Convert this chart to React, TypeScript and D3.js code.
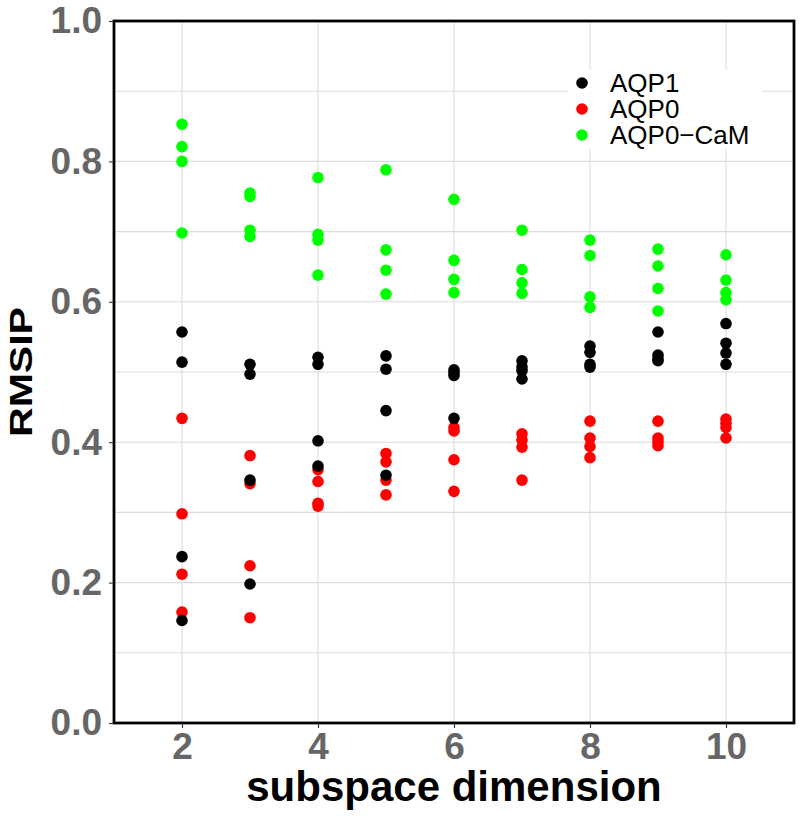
import React, { useEffect, useRef } from 'react'
import * as d3 from 'd3'

// subspace dimensions on the x axis
const dims = [2, 3, 4, 5, 6, 7, 8, 9, 10]

// RMSIP values, four replicates per dimension
const aqp1 = [
  [0.557, 0.514, 0.237, 0.146],
  [0.511, 0.497, 0.346, 0.198],
  [0.521, 0.511, 0.402, 0.366],
  [0.523, 0.504, 0.445, 0.353],
  [0.503, 0.499, 0.495, 0.434],
  [0.516, 0.507, 0.502, 0.49],
  [0.537, 0.528, 0.511, 0.507],
  [0.557, 0.524, 0.519, 0.516],
  [0.569, 0.541, 0.527, 0.511],
]

const aqp0 = [
  [0.434, 0.298, 0.212, 0.158],
  [0.381, 0.341, 0.224, 0.15],
  [0.361, 0.344, 0.313, 0.309],
  [0.384, 0.372, 0.346, 0.325],
  [0.421, 0.416, 0.375, 0.33],
  [0.412, 0.403, 0.393, 0.346],
  [0.43, 0.406, 0.394, 0.378],
  [0.43, 0.406, 0.401, 0.395],
  [0.433, 0.427, 0.421, 0.406],
]

const aqp0CaM = [
  [0.853, 0.821, 0.8, 0.698],
  [0.755, 0.75, 0.702, 0.693],
  [0.777, 0.696, 0.688, 0.638],
  [0.788, 0.674, 0.645, 0.611],
  [0.746, 0.659, 0.632, 0.613],
  [0.702, 0.646, 0.627, 0.612],
  [0.688, 0.666, 0.607, 0.592],
  [0.675, 0.651, 0.619, 0.587],
  [0.667, 0.631, 0.613, 0.603],
]

const seriesNames = ['AQP1', 'AQP0', 'AQP0\u2212CaM']
const seriesColors = ['#000000', '#ff0000', '#00ff00']

const yTicks = [0, 0.2, 0.4, 0.6, 0.8, 1.0]
const yGrid = [0.1, 0.2, 0.3, 0.4, 0.5, 0.6, 0.7, 0.8, 0.9]
const xTicks = [2, 4, 6, 8, 10]

const FONT = "'Liberation Sans', Arial, Helvetica, sans-serif"

const App = () => {
  const chartRef = useRef<HTMLDivElement>(null)

  useEffect(() => {
    const width = 800
    const height = 819
    const left = 114
    const right = 794
    const top = 21
    const bottom = 723
    const r = 5.8

    const x = d3.scaleLinear().domain([1, 11]).range([left, right])
    const y = d3.scaleLinear().domain([0, 1]).range([bottom, top])

    const svg = d3
      .select(chartRef.current)
      .append('svg')
      .attr('width', width)
      .attr('height', height)
      .style('position', 'absolute')
      .style('left', '0px')
      .style('top', '0px')
      .style('background', '#fff')

    // grid
    svg
      .append('g')
      .selectAll('line')
      .data(yGrid)
      .enter()
      .append('line')
      .attr('x1', left)
      .attr('x2', right)
      .attr('y1', (d) => y(d))
      .attr('y2', (d) => y(d))
      .attr('stroke', '#dcdcdc')
      .attr('stroke-width', 1.1)

    svg
      .append('g')
      .selectAll('line')
      .data(xTicks)
      .enter()
      .append('line')
      .attr('x1', (d) => x(d))
      .attr('x2', (d) => x(d))
      .attr('y1', top)
      .attr('y2', bottom)
      .attr('stroke', '#dcdcdc')
      .attr('stroke-width', 1.1)

    // points: red, black, green
    const drawOrder = [
      { vals: aqp0, color: seriesColors[1] },
      { vals: aqp1, color: seriesColors[0] },
      { vals: aqp0CaM, color: seriesColors[2] },
    ]
    drawOrder.forEach((s, i) => {
      const pts = dims.flatMap((d, j) => s.vals[j].map((v) => ({ d, v })))
      svg
        .append('g')
        .selectAll(`.dot-${i}`)
        .data(pts)
        .enter()
        .append('circle')
        .attr('class', `dot-${i}`)
        .attr('cx', (p) => x(p.d))
        .attr('cy', (p) => y(p.v))
        .attr('r', r)
        .attr('fill', s.color)
    })

    // legend
    const lg = svg.append('g')
    lg.append('rect')
      .attr('x', 568)
      .attr('y', 70)
      .attr('width', 194)
      .attr('height', 79)
      .attr('fill', '#fff')
    seriesNames.forEach((name, i) => {
      const cy = 83 + i * 26
      lg.append('circle').attr('cx', 582).attr('cy', cy).attr('r', r).attr('fill', seriesColors[i])
      lg.append('text')
        .attr('x', 610)
        .attr('y', cy)
        .attr('dy', '0.36em')
        .attr('font-family', FONT)
        .attr('font-size', 26)
        .attr('fill', '#000')
        .text(name)
    })

    // panel border
    svg
      .append('rect')
      .attr('x', left)
      .attr('y', top)
      .attr('width', right - left)
      .attr('height', bottom - top)
      .attr('fill', 'none')
      .attr('stroke', '#000')
      .attr('stroke-width', 2.8)

    // axes
    const yAxis = svg
      .append('g')
      .attr('transform', `translate(${left - 1},0)`)
      .call(d3.axisLeft(y).tickValues(yTicks).tickFormat(d3.format('.1f')).tickSize(4).tickPadding(7))
    const xAxis = svg
      .append('g')
      .attr('transform', `translate(0,${bottom + 1})`)
      .call(d3.axisBottom(x).tickValues(xTicks).tickFormat(d3.format('d')).tickSize(4).tickPadding(5))
    ;[yAxis, xAxis].forEach((a) => {
      a.select('.domain').remove()
      a.selectAll('.tick line').attr('stroke', '#333').attr('stroke-width', 1.1)
      a.selectAll('.tick text')
        .attr('font-family', FONT)
        .attr('font-size', 37)
        .attr('font-weight', 'bold')
        .attr('fill', '#666')
    })

    // axis titles
    svg
      .append('text')
      .attr('x', (left + right) / 2)
      .attr('y', 801)
      .attr('text-anchor', 'middle')
      .attr('font-family', FONT)
      .attr('font-size', 42)
      .attr('font-weight', 'bold')
      .attr('fill', '#000')
      .text('subspace dimension')

    svg
      .append('text')
      .attr('transform', `translate(32,${(top + bottom) / 2}) rotate(-90)`)
      .attr('text-anchor', 'middle')
      .attr('font-family', FONT)
      .attr('font-size', 31)
      .attr('font-weight', 'bold')
      .attr('fill', '#000')
      .attr('textLength', 130)
      .attr('lengthAdjust', 'spacingAndGlyphs')
      .text('RMSIP')

    return () => {
      d3.select(chartRef.current).selectAll('*').remove()
    }
  }, [])

  return <div ref={chartRef}></div>
}

export default App
